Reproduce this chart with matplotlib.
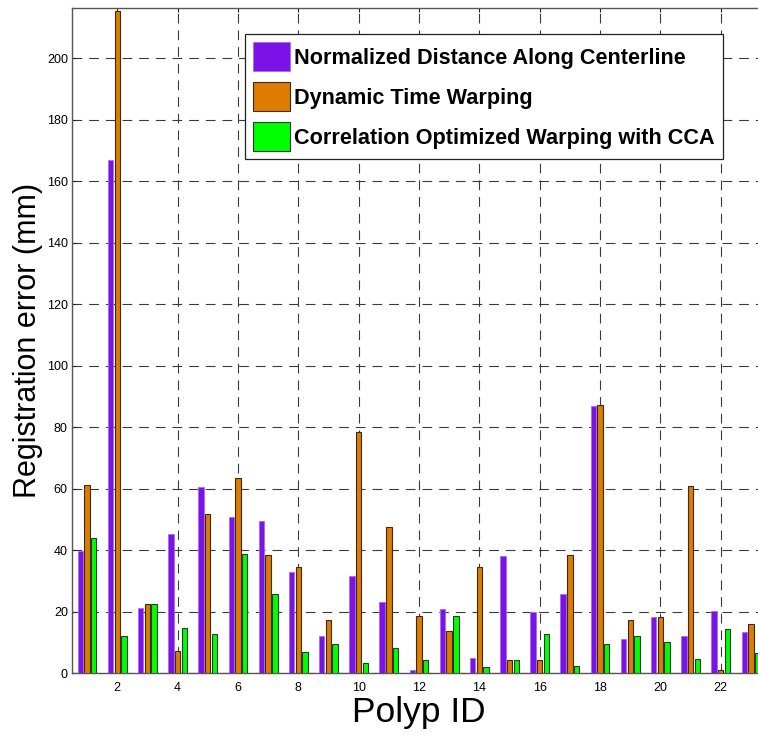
import numpy as np
import matplotlib
matplotlib.use("Agg")
import matplotlib.pyplot as plt

# data
polyp_ids = [1, 2, 3, 4, 5, 6, 7, 8, 9, 10, 11, 12, 13, 14, 15, 16, 17, 18, 19, 20, 21, 22, 23]
normalized_dist = [39.7, 167.1, 21.1, 45.3, 60.6, 50.9, 49.4, 32.8, 12.0, 31.5, 23.1, 1.1,
                   20.8, 5.1, 38.3, 20.0, 25.9, 87.0, 11.1, 18.3, 12.0, 20.3, 13.4]
dtw = [61.3, 215.3, 22.4, 7.4, 51.7, 63.5, 38.6, 34.5, 17.4, 78.6, 47.5, 18.8,
       13.7, 34.5, 4.2, 4.2, 38.6, 87.2, 17.4, 18.3, 60.8, 1.0, 15.9]
cow_cca = [44.0, 12.2, 22.4, 14.6, 12.8, 38.9, 25.9, 7.0, 9.4, 3.4, 8.3, 4.2,
           18.5, 1.9, 4.2, 12.8, 2.5, 9.4, 12.0, 10.3, 4.5, 14.3, 6.5]
labels = ["Normalized Distance Along Centerline",
          "Dynamic Time Warping",
          "Correlation Optimized Warping with CCA"]
xticks = [2, 4, 6, 8, 10, 12, 14, 16, 18, 20, 22]
yticks = [0, 20, 40, 60, 80, 100, 120, 140, 160, 180, 200]

plt.rcParams['font.family'] = ['Liberation Sans', 'DejaVu Sans']
plt.rcParams['lines.scale_dashes'] = False

fig = plt.figure(figsize=(7.58, 7.37), dpi=100)
ax = fig.add_axes([72 / 758, 1 - 673.3 / 737, (766 - 72) / 758, (673.3 - 8.3) / 737])

x = np.array(polyp_ids)
w = 0.178
off = 0.222
ax.bar(x - off, normalized_dist, w, color='#7b12e6', edgecolor='#a56cf0', linewidth=0.6,
       label=labels[0], zorder=3)
ax.bar(x, dtw, w, color='#dd7c00', edgecolor='#3a2a1a', linewidth=0.8,
       label=labels[1], zorder=3)
ax.bar(x + off, cow_cca, w, color='#00ff00', edgecolor='#2a3a2a', linewidth=0.8,
       label=labels[2], zorder=3)

ax.set_xlim(0.5, 23.5)
ax.set_ylim(0, 216.3)
ax.set_xticks(xticks)
ax.set_yticks(yticks)
ax.tick_params(direction='in', length=3, width=0.8, top=True, right=True,
               labelsize=9, color='#222222')
ax.tick_params(axis='x', pad=6)
ax.tick_params(axis='y', pad=3)

ax.set_axisbelow(True)
ax.grid(True, color='#3a3a3a', linewidth=0.8, linestyle=(0, (7, 5)))
for s in ax.spines.values():
    s.set_color('#555555')
    s.set_linewidth(1.0)

ax.set_xlabel("Polyp ID", fontsize=25.5, labelpad=2)
ax.set_ylabel("Registration error (mm)", fontsize=22, labelpad=3)

leg = ax.legend(loc='upper left', bbox_to_anchor=(245 / 758, 1 - 34 / 737),
                bbox_transform=fig.transFigure, borderaxespad=0,
                prop={'weight': 'bold', 'size': 15.6}, fancybox=False, framealpha=1,
                edgecolor='#222222', handlelength=1.7, handleheight=1.72,
                labelspacing=0.485, handletextpad=0.22, borderpad=0.36)
leg.get_frame().set_linewidth(0.9)

fig.savefig("out.png", dpi=100)
